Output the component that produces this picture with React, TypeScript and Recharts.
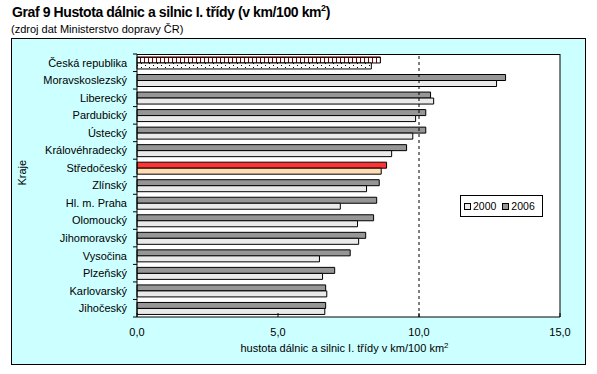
import { Bar, BarChart, Cell, Legend, ReferenceLine, XAxis, YAxis, CartesianGrid } from "recharts";

const regions = [
  "Česká republika",
  "Moravskoslezský",
  "Liberecký",
  "Pardubický",
  "Ústecký",
  "Královéhradecký",
  "Středočeský",
  "Zlínský",
  "Hl. m. Praha",
  "Olomoucký",
  "Jihomoravský",
  "Vysočina",
  "Plzeňský",
  "Karlovarský",
  "Jihočeský"
];
const y2000 = [8.31, 12.75, 10.52, 9.88, 9.78, 9.03, 8.66, 8.14, 7.21, 7.82, 7.86, 6.47, 6.58, 6.73, 6.66];
const y2006 = [8.63, 13.07, 10.41, 10.24, 10.24, 9.56, 8.85, 8.59, 8.5, 8.39, 8.11, 7.56, 7.01, 6.69, 6.69];
const xTicks = [0, 5, 10, 15];

const data = regions.map((name, i) => ({ name, y2000: y2000[i], y2006: y2006[i] }));

const FONT = "'Liberation Sans', Arial, sans-serif";

const fill2006 = (name: string) =>
  name === "Česká republika" ? "url(#crHatch)" : name === "Středočeský" ? "#ff3333" : "#969696";
const fill2000 = (name: string) =>
  name === "Česká republika" ? "url(#crDots)" : name === "Středočeský" ? "#ffdcb4" : "#eaeaea";

function RegionTick(props: any) {
  const { x, y, payload, index } = props;
  const half = payload?.offset || 8.77;
  const axisX = x + 10;
  return (
    <g>
      <text x={x} y={y} dy="0.355em" textAnchor="end" fontSize={11} fontFamily={FONT} fill="#000">
        {payload.value}
      </text>
      <line x1={axisX - 4} x2={axisX} y1={y - half} y2={y - half} stroke="#000" />
      {index === regions.length - 1 && (
        <line x1={axisX - 4} x2={axisX} y1={y + half} y2={y + half} stroke="#000" />
      )}
    </g>
  );
}

function ValueTick(props: any) {
  const { x, y, payload } = props;
  const axisY = y - 10;
  return (
    <g>
      <line x1={x} x2={x} y1={axisY} y2={axisY - 4} stroke="#000" />
      <text x={x} y={y} dy="0.8em" textAnchor="middle" fontSize={11} fontFamily={FONT} fill="#000">
        {Number(payload.value).toFixed(1).replace(".", ",")}
      </text>
    </g>
  );
}

function AxisTitle(props: any) {
  const vb = props.viewBox || { x: 137, y: 317, width: 423, height: 30 };
  return (
    <text x={vb.x + vb.width / 2 - 4} y={352} textAnchor="middle" fontSize={11} fontFamily={FONT} fill="#000">
      hustota dálnic a silnic I. třídy v km/100 km
      <tspan dy={-4} fontSize={8}>2</tspan>
    </text>
  );
}

function LegendBox(props: any) {
  const items = [...(props.payload || [])].sort((a: any, b: any) => String(a.value).localeCompare(String(b.value)));
  return (
    <div
      style={{
        display: "flex",
        alignItems: "center",
        height: 20,
        padding: "0 0 0 3px",
        fontFamily: FONT,
        fontSize: 10.5,
        color: "#000"
      }}
    >
      {items.map((it: any) => (
        <span key={it.value} style={{ display: "flex", alignItems: "center", marginRight: 6 }}>
          <span
            style={{
              display: "inline-block",
              width: 5,
              height: 5,
              border: "1px solid #000",
              background: it.dataKey === "y2000" ? "#eaeaea" : "#969696",
              marginRight: 2
            }}
          />
          {it.value}
        </span>
      ))}
    </div>
  );
}

export default function App() {
  return (
    <div style={{ position: "absolute", left: 0, top: 0, width: 597, height: 374, background: "#fff" }}>
      <div
        style={{
          position: "absolute",
          left: 12,
          top: 3,
          fontFamily: FONT,
          fontWeight: "bold",
          fontSize: 14,
          letterSpacing: -0.4,
          whiteSpace: "nowrap"
        }}
      >
        Graf 9 Hustota dálnic a silnic I. třídy (v km/100 km<sup style={{ fontSize: 9 }}>2</sup>)
      </div>
      <div
        style={{
          position: "absolute",
          left: 11,
          top: 23,
          fontFamily: FONT,
          fontSize: 11,
          whiteSpace: "nowrap"
        }}
      >
        (zdroj dat Ministerstvo dopravy ČR)
      </div>
      <div
        style={{
          position: "absolute",
          left: 11,
          top: 38,
          width: 573,
          height: 325,
          background: "#ccffff",
          border: "1px solid #000"
        }}
      />
      <div style={{ position: "absolute", left: 0, top: 0 }}>
        <BarChart
          width={597}
          height={374}
          data={data}
          layout="vertical"
          margin={{ top: 54, right: 37, bottom: 27, left: 12 }}
          barCategoryGap="17%"
          barGap={0}
        >
          <defs>
            <pattern id="crHatch" width="4" height="6" patternUnits="userSpaceOnUse">
              <rect width="4" height="6" fill="#fff" />
              <line x1="0.5" x2="0.5" y1="0" y2="6" stroke="#800000" strokeWidth={1} />
              <line x1="0" x2="4" y1="3.5" y2="3.5" stroke="#800000" strokeWidth={1} />
            </pattern>
            <pattern id="crDots" width="8" height="4" patternUnits="userSpaceOnUse">
              <rect width="8" height="4" fill="#fff" />
              <rect x="1" y="1" width="1" height="1" fill="#000" />
              <rect x="5" y="3" width="1" height="1" fill="#000" />
            </pattern>
          </defs>
          <CartesianGrid horizontal={false} vertical={false} fill="#fff" />
          <XAxis
            type="number"
            domain={[0, 15]}
            ticks={xTicks}
            interval={0}
            tickSize={4}
            tickMargin={6}
            tickLine={false}
            axisLine={{ stroke: "#000" }}
            tick={<ValueTick />}
            height={30}
            label={<AxisTitle />}
          />
          <YAxis
            type="category"
            dataKey="name"
            width={125}
            tickSize={5}
            tickMargin={5}
            tickLine={false}
            interval={0}
            axisLine={{ stroke: "#000" }}
            tick={<RegionTick />}
            label={{ value: "Kraje", angle: -90, position: "insideLeft", offset: 10, fontSize: 11, fontFamily: FONT, fill: "#000" }}
          />
          <ReferenceLine x={10} stroke="#000" strokeDasharray="3 3" />
          <ReferenceLine x={15} stroke="#000" />
          <Bar dataKey="y2006" name="2006" stroke="#000" strokeWidth={1} isAnimationActive={false}>
            {data.map((d) => (
              <Cell key={d.name} fill={fill2006(d.name)} />
            ))}
          </Bar>
          <Bar dataKey="y2000" name="2000" stroke="#000" strokeWidth={1} isAnimationActive={false}>
            {data.map((d) => (
              <Cell key={d.name} fill={fill2000(d.name)} />
            ))}
          </Bar>
          <Legend
            layout="horizontal"
            verticalAlign="middle"
            align="center"
            content={<LegendBox />}
            wrapperStyle={{
              left: 460,
              top: 195,
              width: 81,
              height: 20,
              border: "1px solid #000",
              background: "#fff"
            }}
          />
        </BarChart>
      </div>
      <div
        style={{
          position: "absolute",
          left: 137,
          top: 54,
          width: 423,
          height: 263,
          borderTop: "1px solid #000",
          pointerEvents: "none"
        }}
      />
    </div>
  );
}
